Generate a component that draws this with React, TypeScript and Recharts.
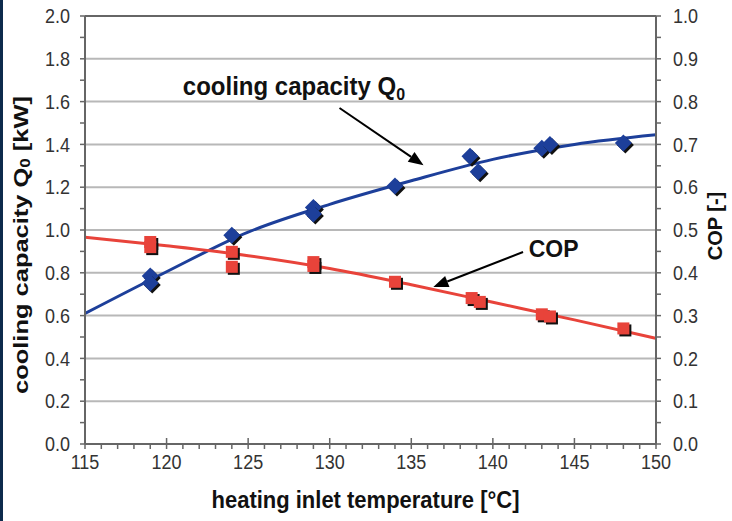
import React from 'react';
import {
  ComposedChart,
  Line,
  Scatter,
  XAxis,
  YAxis,
  CartesianGrid,
  ReferenceLine,
  ReferenceDot,
} from 'recharts';

// ---- data ----
const capacityX = [119, 119, 124, 129, 129, 134, 138.6, 139.1, 143, 143.5, 148];
const capacityY = [0.785, 0.752, 0.975, 1.105, 1.075, 1.206, 1.345, 1.272, 1.382, 1.4, 1.406];
const copX = [119, 119, 124, 124, 129, 129, 134, 138.7, 139.2, 143, 143.5, 148];
const copY = [0.472, 0.46, 0.449, 0.414, 0.425, 0.416, 0.379, 0.341, 0.332, 0.303, 0.298, 0.27];
const fitX = [115, 120, 125, 130, 135, 140, 145, 150];
const capacityFit = [0.61, 0.805, 0.99, 1.12, 1.23, 1.33, 1.4, 1.445];
const copFit = [0.483, 0.463, 0.44, 0.41, 0.372, 0.331, 0.29, 0.247];

const xTicks = [115, 116, 117, 118, 119, 120, 121, 122, 123, 124, 125, 126, 127, 128, 129, 130, 131, 132, 133, 134, 135, 136, 137, 138, 139, 140, 141, 142, 143, 144, 145, 146, 147, 148, 149, 150];
const leftTicks = [0, 0.1, 0.2, 0.3, 0.4, 0.5, 0.6, 0.7, 0.8, 0.9, 1.0, 1.1, 1.2, 1.3, 1.4, 1.5, 1.6, 1.7, 1.8, 1.9, 2.0];
const leftGrid = [0.2, 0.4, 0.6, 0.8, 1.0, 1.2, 1.4, 1.6, 1.8];
const rightTicks = [0, 0.05, 0.1, 0.15, 0.2, 0.25, 0.3, 0.35, 0.4, 0.45, 0.5, 0.55, 0.6, 0.65, 0.7, 0.75, 0.8, 0.85, 0.9, 0.95, 1.0];

const capacityPoints = capacityX.map((x, i) => ({ x, y: capacityY[i] }));
const copPoints = copX.map((x, i) => ({ x, y: copY[i] }));
const capacityLine = fitX.map((x, i) => ({ x, y: capacityFit[i] }));
const copLine = fitX.map((x, i) => ({ x, y: copFit[i] }));

const FONT = '"Liberation Sans", Arial, sans-serif';
const BLUE = '#1d3f9a';
const RED = '#e8433a';
const AXIS = '#666';
const TICK_TEXT = '#333';

const isMultiple = (v: number, step: number) => Math.abs(v / step - Math.round(v / step)) < 1e-6;
const vStretch = (x: number, y: number, k: number) =>
  `translate(${x} ${y}) scale(1 ${k}) translate(${-x} ${-y})`;

const LeftTick = (props: any) => {
  const { x, y, payload } = props;
  if (!isMultiple(payload.value, 0.2)) return <g />;
  return (
    <text x={x} y={y} dy="0.36em" textAnchor="end" fontFamily={FONT} fontSize={18} fill={TICK_TEXT}
      transform={vStretch(x, y, 1.12)}>
      {Number(payload.value).toFixed(1)}
    </text>
  );
};

const RightTick = (props: any) => {
  const { x, y, payload } = props;
  if (!isMultiple(payload.value, 0.1)) return <g />;
  return (
    <text x={x} y={y} dy="0.36em" textAnchor="start" fontFamily={FONT} fontSize={18} fill={TICK_TEXT}
      transform={vStretch(x, y, 1.12)}>
      {Number(payload.value).toFixed(1)}
    </text>
  );
};

const X_TICK_SIZE = 5;
const X_TICK_MARGIN = 6;
const BottomTick = (props: any) => {
  const { x, y, payload } = props;
  if (!isMultiple(payload.value, 5)) return <g />;
  const axisY = y - X_TICK_SIZE - X_TICK_MARGIN;
  return (
    <g>
      <line x1={x} x2={x} y1={axisY - 6} y2={axisY} stroke={AXIS} strokeWidth={1.5} />
      <text x={x} y={y} dy="0.72em" textAnchor="middle" fontFamily={FONT} fontSize={18} fill={TICK_TEXT}
        transform={vStretch(x, y + 2, 1.12)}>
        {payload.value}
      </text>
    </g>
  );
};

const Diamond = (props: any) => {
  const { cx, cy } = props;
  if (cx == null || cy == null) return <g />;
  const r = 8.5;
  const pts = (dx: number, dy: number) =>
    `${cx + dx},${cy + dy - r} ${cx + dx + r},${cy + dy} ${cx + dx},${cy + dy + r} ${cx + dx - r},${cy + dy}`;
  return (
    <g>
      <polygon points={pts(2, 2)} fill="#111" />
      <polygon points={pts(0, 0)} fill={BLUE} />
    </g>
  );
};

const Square = (props: any) => {
  const { cx, cy } = props;
  if (cx == null || cy == null) return <g />;
  const s = 12;
  return (
    <g>
      <rect x={cx - s / 2 + 2} y={cy - s / 2 + 2} width={s} height={s} fill="#111" />
      <rect x={cx - s / 2} y={cy - s / 2} width={s} height={s} fill={RED} />
    </g>
  );
};

const Arrow = (props: any) => {
  const { x1, y1, x2, y2 } = props;
  const dx = x2 - x1;
  const dy = y2 - y1;
  const len = Math.sqrt(dx * dx + dy * dy) || 1;
  const ux = dx / len;
  const uy = dy / len;
  const headLen = 15;
  const headW = 6;
  const bx = x2 - ux * headLen;
  const by = y2 - uy * headLen;
  const px = -uy;
  const py = ux;
  return (
    <g>
      <line x1={x1} y1={y1} x2={bx} y2={by} stroke="#000" strokeWidth={2} />
      <polygon
        points={`${x2},${y2} ${bx + px * headW},${by + py * headW} ${bx - px * headW},${by - py * headW}`}
        fill="#000"
      />
    </g>
  );
};

const CapacityLabel = (props: any) => {
  const { cx, cy } = props;
  return (
    <text x={cx} y={cy} fontFamily={FONT} fontWeight="bold" fontSize={24} fill="#111"
      transform={vStretch(cx, cy, 1.05)}>
      cooling capacity Q
      <tspan dy={5} fontSize={16}>0</tspan>
    </text>
  );
};

const CopLabel = (props: any) => {
  const { cx, cy } = props;
  return (
    <text x={cx} y={cy} fontFamily={FONT} fontWeight="bold" fontSize={23} fill="#111"
      transform={vStretch(cx, cy, 1.05)}>
      COP
    </text>
  );
};

const LeftTitle = (props: any) => {
  const vb = props.viewBox || {};
  const x = (vb.x || 0) + 20;
  const y = (vb.y || 0) + (vb.height || 0) / 2 + 15;
  return (
    <text
      x={x}
      y={y}
      transform={`rotate(-90 ${x} ${y})`}
      textAnchor="middle"
      dominantBaseline="central"
      fontFamily={FONT}
      fontWeight="bold"
      fontSize={21}
      fill="#111"
      textLength={298}
      lengthAdjust="spacingAndGlyphs"
    >
      cooling capacity Q
      <tspan dy={5} fontSize={14}>0</tspan>
      <tspan dy={-5}> [kW]</tspan>
    </text>
  );
};

const RightTitle = (props: any) => {
  const vb = props.viewBox || {};
  const x = (vb.x || 0) + 59;
  const y = (vb.y || 0) + (vb.height || 0) / 2 - 4;
  return (
    <text
      x={x}
      y={y}
      transform={`rotate(-90 ${x} ${y})`}
      textAnchor="middle"
      dominantBaseline="central"
      fontFamily={FONT}
      fontWeight="bold"
      fontSize={20}
      fill="#111"
    >
      COP [-]
    </text>
  );
};

const BottomTitle = (props: any) => {
  const vb = props.viewBox || {};
  const x = (vb.x || 0) + (vb.width || 0) / 2 - 5;
  const y = (vb.y || 0) + 64;
  return (
    <text x={x} y={y} textAnchor="middle" fontFamily={FONT} fontWeight="bold" fontSize={22} fill="#111"
      transform={vStretch(x, y, 1.08)}>
      heating inlet temperature [°C]
    </text>
  );
};

export default function App() {
  return (
    <div
      style={{
        position: 'absolute',
        left: 0,
        top: 0,
        width: 732,
        height: 521,
        background: '#fff',
        overflow: 'hidden',
      }}
    >
      <ComposedChart width={732} height={521} margin={{ top: 16, right: 0, bottom: 0, left: 0 }}>
        <CartesianGrid
          yAxisId="left"
          vertical={false}
          horizontalValues={leftGrid}
          stroke="#b8b8b8"
          strokeWidth={2}
        />
        <XAxis
          dataKey="x"
          type="number"
          domain={[115, 150]}
          ticks={xTicks}
          interval={0}
          allowDataOverflow
          height={77}
          tickSize={X_TICK_SIZE}
          tickMargin={X_TICK_MARGIN}
          axisLine={{ stroke: AXIS, strokeWidth: 2 }}
          tickLine={{ stroke: AXIS, strokeWidth: 1.5 }}
          tick={<BottomTick />}
          label={<BottomTitle />}
        />
        <YAxis
          yAxisId="left"
          dataKey="y"
          type="number"
          domain={[0, 2]}
          ticks={leftTicks}
          interval={0}
          allowDataOverflow
          width={85}
          tickSize={5}
          tickMargin={10}
          axisLine={{ stroke: AXIS, strokeWidth: 2 }}
          tickLine={{ stroke: AXIS, strokeWidth: 1.5 }}
          tick={<LeftTick />}
          label={<LeftTitle />}
        />
        <YAxis
          yAxisId="right"
          orientation="right"
          dataKey="y"
          type="number"
          domain={[0, 1]}
          ticks={rightTicks}
          interval={0}
          allowDataOverflow
          width={76}
          tickSize={5}
          tickMargin={12}
          axisLine={{ stroke: AXIS, strokeWidth: 2 }}
          tickLine={{ stroke: AXIS, strokeWidth: 1.5 }}
          tick={<RightTick />}
          label={<RightTitle />}
        />
        <ReferenceLine yAxisId="left" y={2} stroke={AXIS} strokeWidth={2} />

        <Line
          yAxisId="left"
          data={capacityLine}
          dataKey="y"
          type="monotone"
          stroke={BLUE}
          strokeWidth={3}
          dot={false}
          activeDot={false}
          isAnimationActive={false}
        />
        <Line
          yAxisId="right"
          data={copLine}
          dataKey="y"
          type="monotone"
          stroke={RED}
          strokeWidth={3}
          dot={false}
          activeDot={false}
          isAnimationActive={false}
        />
        <Scatter
          yAxisId="left"
          data={capacityPoints}
          dataKey="y"
          shape={<Diamond />}
          isAnimationActive={false}
        />
        <Scatter
          yAxisId="right"
          data={copPoints}
          dataKey="y"
          shape={<Square />}
          isAnimationActive={false}
        />

        <ReferenceLine
          yAxisId="left"
          segment={[{ x: 130.6, y: 1.57 }, { x: 135.75, y: 1.302 }]}
          shape={(p: any) => <Arrow {...p} />}
        />
        <ReferenceLine
          yAxisId="left"
          segment={[{ x: 141.85, y: 0.897 }, { x: 136.35, y: 0.734 }]}
          shape={(p: any) => <Arrow {...p} />}
        />
        <ReferenceDot yAxisId="left" x={121.0} y={1.631} shape={(p: any) => <CapacityLabel {...p} />} />
        <ReferenceDot yAxisId="left" x={142.2} y={0.874} shape={(p: any) => <CopLabel {...p} />} />
      </ComposedChart>
      <div
        style={{
          position: 'absolute',
          left: 0,
          top: 0,
          width: 3,
          height: 521,
          background: '#0d2a4c',
        }}
      />
    </div>
  );
}
